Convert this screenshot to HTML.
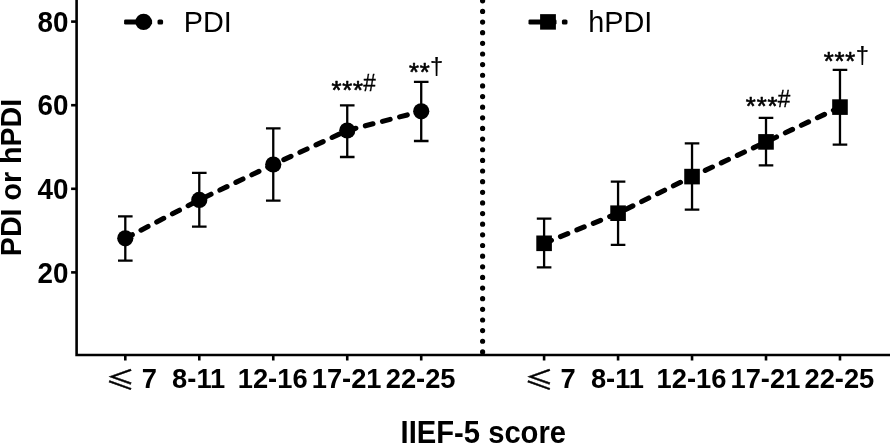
<!DOCTYPE html>
<html lang="en">
<head>
<meta charset="utf-8">
<title>PDI and hPDI by IIEF-5 score</title>
<style>
html,body{margin:0;padding:0;background:#fff;}
body{width:890px;height:443px;overflow:hidden;}
svg{display:block;}
text{font-family:"Liberation Sans","Noto Sans CJK SC",sans-serif;fill:#000;}
.b{font-weight:bold;}
.le{font-family:"Noto Sans CJK SC","Liberation Sans",sans-serif;font-weight:normal;}
</style>
</head>
<body>
<svg width="890" height="443" viewBox="0 0 890 443">
<rect x="0" y="0" width="890" height="443" fill="#fff"/>
<g stroke="#000" stroke-width="2.6" fill="none" stroke-linecap="butt">
<path d="M76.6 -2V355 H892"/>
<path d="M71.1 21.6H76.6"/>
<path d="M71.1 105.2H76.6"/>
<path d="M71.1 188.8H76.6"/>
<path d="M71.1 272.4H76.6"/>
<path d="M125.3 355V360.5"/>
<path d="M199.28 355V360.5"/>
<path d="M273.26 355V360.5"/>
<path d="M347.24 355V360.5"/>
<path d="M421.22 355V360.5"/>
<path d="M544.1 355V360.5"/>
<path d="M618.07 355V360.5"/>
<path d="M692.04 355V360.5"/>
<path d="M766.01 355V360.5"/>
<path d="M839.98 355V360.5"/>
</g>
<path d="M482.6 351.9V-5" stroke="#000" stroke-width="5.2" stroke-linecap="round" stroke-dasharray="0 10.64" fill="none"/>
<polyline points="125.3,238.3 199.28,199.9 273.26,164.5 347.24,130.5 421.22,111.3" fill="none" stroke="#000" stroke-width="5.1" stroke-linecap="round" stroke-dasharray="7.9 9.8"/>
<g stroke="#000" stroke-width="2.3" fill="none">
<path d="M125.3 216.4V260.6 M118 216.4H132.6 M118 260.6H132.6"/>
<path d="M199.28 172.9V226.6 M191.98 172.9H206.58 M191.98 226.6H206.58"/>
<path d="M273.26 128.3V200.7 M265.96 128.3H280.56 M265.96 200.7H280.56"/>
<path d="M347.24 105.3V157 M339.94 105.3H354.54 M339.94 157H354.54"/>
<path d="M421.22 81.8V141 M413.92 81.8H428.52 M413.92 141H428.52"/>
</g>
<circle cx="125.3" cy="238.3" r="8.1" fill="#000"/>
<circle cx="199.28" cy="199.9" r="8.1" fill="#000"/>
<circle cx="273.26" cy="164.5" r="8.1" fill="#000"/>
<circle cx="347.24" cy="130.5" r="8.1" fill="#000"/>
<circle cx="421.22" cy="111.3" r="8.1" fill="#000"/>
<polyline points="544.1,243.3 618.07,213.2 692.04,176.6 766.01,141.9 839.98,107.1" fill="none" stroke="#000" stroke-width="5.1" stroke-linecap="round" stroke-dasharray="7.9 9.8"/>
<g stroke="#000" stroke-width="2.3" fill="none">
<path d="M544.1 218.7V267.4 M536.8 218.7H551.4 M536.8 267.4H551.4"/>
<path d="M618.07 181.7V244.8 M610.77 181.7H625.37 M610.77 244.8H625.37"/>
<path d="M692.04 143.3V209.6 M684.74 143.3H699.34 M684.74 209.6H699.34"/>
<path d="M766.01 117.9V165.3 M758.71 117.9H773.31 M758.71 165.3H773.31"/>
<path d="M839.98 69.9V144.6 M832.68 69.9H847.28 M832.68 144.6H847.28"/>
</g>
<rect x="536.3" y="235.5" width="15.6" height="15.6" fill="#000"/>
<rect x="610.27" y="205.4" width="15.6" height="15.6" fill="#000"/>
<rect x="684.24" y="168.8" width="15.6" height="15.6" fill="#000"/>
<rect x="758.21" y="134.1" width="15.6" height="15.6" fill="#000"/>
<rect x="832.18" y="99.3" width="15.6" height="15.6" fill="#000"/>
<rect x="124.1" y="19.4" width="28" height="5.2" rx="1.4" fill="#000"/>
<rect x="157.5" y="19.4" width="5.6" height="5.2" rx="1.6" fill="#000"/>
<circle cx="143.6" cy="21.9" r="8.2" fill="#000"/>
<rect x="528.5" y="19.4" width="28" height="5.2" rx="1.4" fill="#000"/>
<rect x="561.9" y="19.4" width="5.6" height="5.2" rx="1.6" fill="#000"/>
<rect x="540.1" y="14.15" width="15.8" height="15.5" fill="#000"/>
<text transform="translate(183.7 32.2) scale(1 1.04)" font-size="28.8">PDI</text>
<text transform="translate(588.3 32.2) scale(1 1.04)" font-size="28.8">hPDI</text>
<text class="b" text-anchor="end" transform="translate(68.4 31.7) scale(1 1.04)" font-size="27.8">80</text>
<text class="b" text-anchor="end" transform="translate(68.4 115.3) scale(1 1.04)" font-size="27.8">60</text>
<text class="b" text-anchor="end" transform="translate(68.4 198.9) scale(1 1.04)" font-size="27.8">40</text>
<text class="b" text-anchor="end" transform="translate(68.4 282.5) scale(1 1.04)" font-size="27.8">20</text>
<text class="b" text-anchor="middle" transform="translate(21.1 177.5) rotate(-90) scale(1 1.045)" font-size="28.6">PDI or hPDI</text>
<text class="le" transform="translate(106 388.55) scale(1.14 1)" font-size="25.3" stroke="#000" stroke-width="0.45">≤</text>
<text class="b" transform="translate(141.7 388) scale(1 1.04)" font-size="27.3">7</text>
<text class="b" text-anchor="middle" transform="translate(198.68 388) scale(1 1.04)" font-size="27.3">8-11</text>
<text class="b" text-anchor="middle" transform="translate(272.66 388) scale(1 1.04)" font-size="27.3">12-16</text>
<text class="b" text-anchor="middle" transform="translate(346.64 388) scale(1 1.04)" font-size="27.3">17-21</text>
<text class="b" text-anchor="middle" transform="translate(420.62 388) scale(1 1.04)" font-size="27.3">22-25</text>
<text class="le" transform="translate(524.8 388.55) scale(1.14 1)" font-size="25.3" stroke="#000" stroke-width="0.45">≤</text>
<text class="b" transform="translate(560.5 388) scale(1 1.04)" font-size="27.3">7</text>
<text class="b" text-anchor="middle" transform="translate(617.47 388) scale(1 1.04)" font-size="27.3">8-11</text>
<text class="b" text-anchor="middle" transform="translate(691.44 388) scale(1 1.04)" font-size="27.3">12-16</text>
<text class="b" text-anchor="middle" transform="translate(765.41 388) scale(1 1.04)" font-size="27.3">17-21</text>
<text class="b" text-anchor="middle" transform="translate(839.38 388) scale(1 1.04)" font-size="27.3">22-25</text>
<text class="b" text-anchor="middle" transform="translate(483.3 442.5) scale(1 1.06)" font-size="29.2">IIEF-5 score</text>
<text transform="translate(331.44 98.93)" font-size="25.6" letter-spacing="0.84" stroke="#000" stroke-width="0.6" stroke-linejoin="round">***</text>
<text transform="translate(363.3 90.8) scale(1 1.09)" font-size="22.5" stroke="#000" stroke-width="0.3">#</text>
<text transform="translate(408.94 80.73)" font-size="25.6" letter-spacing="0.84" stroke="#000" stroke-width="0.6" stroke-linejoin="round">**</text>
<text transform="translate(430.05 75.25) scale(0.95 0.97)" font-size="25" stroke="#000" stroke-width="0.2">†</text>
<text transform="translate(745.84 114.83)" font-size="25.6" letter-spacing="0.84" stroke="#000" stroke-width="0.6" stroke-linejoin="round">***</text>
<text transform="translate(777.7 106.7) scale(1 1.09)" font-size="22.5" stroke="#000" stroke-width="0.3">#</text>
<text transform="translate(823.74 69.73)" font-size="25.6" letter-spacing="0.84" stroke="#000" stroke-width="0.6" stroke-linejoin="round">***</text>
<text transform="translate(855.65 64.25) scale(0.95 0.97)" font-size="25" stroke="#000" stroke-width="0.2">†</text>
</svg>
</body>
</html>
